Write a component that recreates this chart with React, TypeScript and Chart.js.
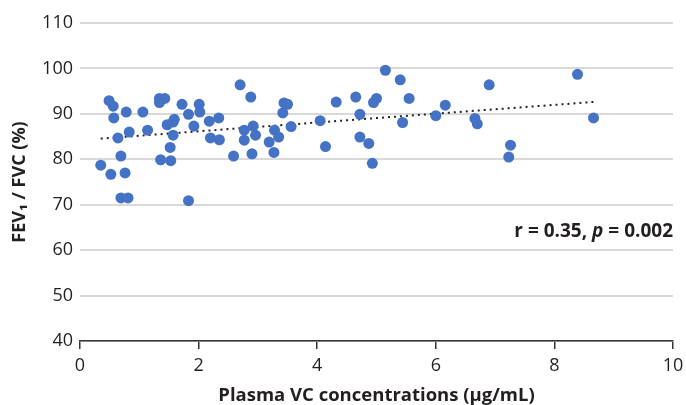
import { useEffect, useRef } from "react";
import { Chart, registerables } from "chart.js";
Chart.register(...registerables);

const vcConcentration = [
  0.35, 0.49, 0.56, 0.57, 0.52, 0.64, 0.69, 0.76, 0.69, 0.81, 0.78, 0.83, 1.06, 1.14,
  1.34, 1.43, 1.34, 1.36, 1.53, 1.52, 1.47, 1.57, 1.59, 1.57, 1.72, 1.83, 1.83, 1.92,
  2.01, 2.02, 2.18, 2.34, 2.2, 2.35, 2.59, 2.7, 2.88, 2.92, 2.77, 2.77, 2.96, 2.9,
  3.19, 3.28, 3.35, 3.27, 3.42, 3.44, 3.5, 3.56, 4.05, 4.14, 4.32, 4.65, 4.72, 4.72,
  4.87, 4.93, 4.95, 5.0, 5.15, 5.4, 5.55, 5.44, 6.0, 6.16, 6.9, 6.66, 6.7, 7.26,
  7.23, 8.39, 8.66,
];
const fevFvcRatio = [
  78.7, 92.9, 91.7, 89.1, 76.7, 84.7, 80.7, 77.0, 71.5, 71.5, 90.4, 86.0, 90.4, 86.4,
  93.4, 93.4, 92.5, 79.9, 79.7, 82.6, 87.6, 88.2, 88.8, 85.3, 92.1, 89.9, 70.9, 87.3,
  92.1, 90.4, 88.4, 89.1, 84.7, 84.3, 80.7, 96.4, 93.7, 87.3, 86.4, 84.2, 85.3, 81.2,
  83.8, 86.4, 84.9, 81.5, 90.2, 92.4, 92.1, 87.2, 88.5, 82.8, 92.6, 93.7, 89.9, 84.9,
  83.5, 79.1, 92.5, 93.4, 99.6, 97.5, 93.4, 88.1, 89.6, 91.9, 96.4, 89.0, 87.8, 83.1,
  80.5, 98.7, 89.1,
];
const xTickValues = [0, 2, 4, 6, 8, 10];
const yTickValues = [40, 50, 60, 70, 80, 90, 100, 110];
const statR = "0.35";
const statP = "0.002";

const FONT = "'Open Sans', 'Noto Sans', sans-serif";
const TEXT = "#231f20";

function regression(xs: number[], ys: number[]) {
  const n = xs.length;
  const mx = xs.reduce((a, b) => a + b, 0) / n;
  const my = ys.reduce((a, b) => a + b, 0) / n;
  let sxy = 0, sxx = 0;
  for (let i = 0; i < n; i++) {
    sxy += (xs[i] - mx) * (ys[i] - my);
    sxx += (xs[i] - mx) ** 2;
  }
  const slope = sxy / sxx;
  return { slope, intercept: my - slope * mx };
}

export default function App() {
  const ref = useRef<HTMLCanvasElement | null>(null);
  useEffect(() => {
    if (!ref.current) return;
    const points = vcConcentration.map((x, i) => ({ x, y: fevFvcRatio[i] }));
    const { slope, intercept } = regression(vcConcentration, fevFvcRatio);
    const xmin = Math.min(...vcConcentration);
    const xmax = Math.max(...vcConcentration);
    const trend = [
      { x: xmin, y: intercept + slope * xmin },
      { x: xmax, y: intercept + slope * xmax },
    ];
    const statPlugin = {
      id: "stat",
      afterDatasetsDraw(chart: any) {
        const ctx = chart.ctx;
        ctx.save();
        ctx.fillStyle = TEXT;
        ctx.textBaseline = "alphabetic";
        const parts = [
          { t: `r = ${statR}, `, f: `bold 19px ${FONT}` },
          { t: "p", f: `italic bold 19px ${FONT}` },
          { t: ` = ${statP}`, f: `bold 19px ${FONT}` },
        ];
        let total = 0;
        parts.forEach((p) => { ctx.font = p.f; total += ctx.measureText(p.t).width; });
        let x = 673 - total;
        const y = 237;
        parts.forEach((p) => {
          ctx.font = p.f;
          ctx.textAlign = "left";
          ctx.fillText(p.t, x, y);
          x += ctx.measureText(p.t).width;
        });
        ctx.restore();
      },
    };
    const chart = new Chart(ref.current, {
      type: "scatter",
      data: {
        datasets: [
          {
            data: points,
            backgroundColor: "#4472c4",
            borderColor: "#4472c4",
            pointRadius: 5.5,
            pointBorderWidth: 0,
            order: 1,
          },
          {
            type: "line",
            data: trend,
            borderColor: "#222222",
            borderWidth: 2,
            borderDash: [2, 4],
            pointRadius: 0,
            fill: false,
            order: 2,
          } as any,
        ],
      },
      options: {
        animation: false,
        responsive: false,
        layout: { padding: { top: 23, right: 13, left: 0, bottom: 0 } },
        plugins: { legend: { display: false }, tooltip: { enabled: false } },
        scales: {
          x: {
            type: "linear",
            min: 0,
            max: 10,
            afterBuildTicks: (s: any) => { s.ticks = xTickValues.map((v) => ({ value: v })); },
            afterFit: (s: any) => { s.height = 64; s.paddingLeft = 0; s.paddingRight = 0; },
            grid: { display: true, drawOnChartArea: false, drawTicks: true, tickLength: 8, tickColor: "#333333", lineWidth: 1.5 },
            border: { display: true, color: "#333333", width: 1.5 },
            ticks: { color: TEXT, font: { family: FONT, size: 18 }, padding: 6, maxRotation: 0 },
            title: {
              display: true,
              text: "Plasma VC concentrations (μg/mL)",
              color: TEXT,
              font: { family: FONT, size: 18.5, weight: "bold", lineHeight: 1.0 },
              padding: { top: 0, bottom: 0 },
            },
          },
          y: {
            type: "linear",
            min: 40,
            max: 110,
            afterBuildTicks: (s: any) => { s.ticks = yTickValues.map((v) => ({ value: v })); },
            afterFit: (s: any) => { s.width = 80; s.paddingTop = 0; s.paddingBottom = 0; },
            grid: { color: "#d9d9d9", lineWidth: 2, drawTicks: false },
            border: { display: false },
            ticks: { color: TEXT, font: { family: FONT, size: 18 }, padding: 7 },
            title: {
              display: true,
              text: "FEV₁ / FVC (%)",
              color: TEXT,
              font: { family: FONT, size: 18, weight: "bold" },
              padding: { top: 9, bottom: 0 },
            },
          },
        },
      },
      plugins: [statPlugin],
    });
    return () => chart.destroy();
  }, []);
  return (
    <div style={{ position: "absolute", left: 0, top: 0, width: 686, height: 405, background: "#fff" }}>
      <canvas ref={ref} width={686} height={405} />
    </div>
  );
}
